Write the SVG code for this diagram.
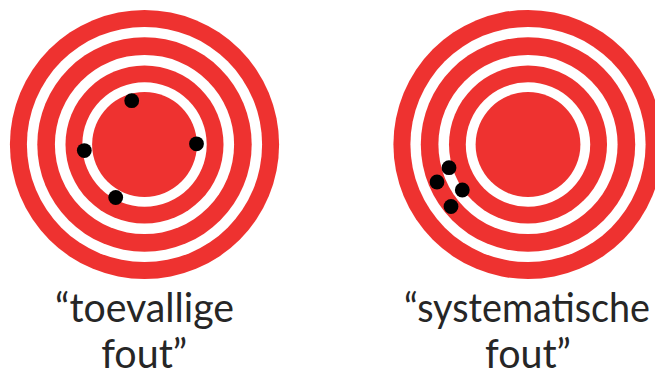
<svg xmlns="http://www.w3.org/2000/svg" width="655" height="374" viewBox="0 0 655 374">
<style>
.r{fill:#EE3230}
.w{fill:#FFFFFF}
.d{fill:#000000}
.t{font-family:Lato,"Open Sans","Liberation Sans",sans-serif;font-size:40px;fill:#262626;text-anchor:middle}
</style>
<defs>
<g id="target">
<circle class="r" r="134.6"/>
<circle class="w" r="117.6"/>
<circle class="r" r="107.2"/>
<circle class="w" r="89.6"/>
<circle class="r" r="79"/>
<circle class="w" r="62.2"/>
<circle class="r" r="52.4"/>
</g>
</defs>
<rect width="655" height="374" fill="#FFFFFF"/>
<g id="target-random">
<use href="#target" x="144.5" y="144.5"/>
<circle class="d" cx="131.7" cy="100.7" r="7.4"/>
<circle class="d" cx="196.5" cy="143.8" r="7.4"/>
<circle class="d" cx="84.3" cy="150.6" r="7.4"/>
<circle class="d" cx="115.7" cy="197.5" r="7.4"/>
</g>
<g id="target-systematic">
<use href="#target" x="528" y="144.5"/>
<circle class="d" cx="449" cy="167.7" r="7.4"/>
<circle class="d" cx="437" cy="182" r="7.4"/>
<circle class="d" cx="462.3" cy="190" r="7.4"/>
<circle class="d" cx="451" cy="206.5" r="7.4"/>
</g>
<g id="label-random">
<text class="t" x="144.6" y="321.7" textLength="179" lengthAdjust="spacingAndGlyphs">“toevallige</text>
<text class="t" x="144.2" y="368.3" textLength="86" lengthAdjust="spacingAndGlyphs">fout”</text>
</g>
<g id="label-systematic">
<text class="t" x="527" y="321.7" textLength="246" lengthAdjust="spacingAndGlyphs">“systematische</text>
<text class="t" x="528" y="368.3" textLength="86" lengthAdjust="spacingAndGlyphs">fout”</text>
</g>
</svg>
